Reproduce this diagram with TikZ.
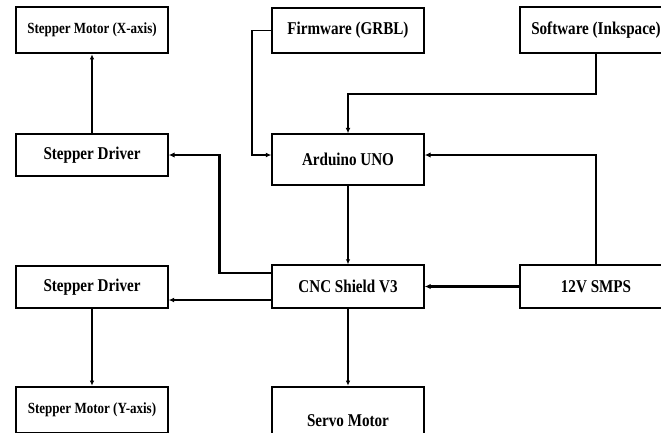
\documentclass[tikz,border=0pt]{standalone}
\usepackage{fontspec}
\setmainfont{Liberation Serif}[FakeStretch=0.84]
\usetikzlibrary{arrows.meta}
\begin{document}
\begin{tikzpicture}[x=1pt,y=-1pt,
  blk/.style={draw=black,rectangle,minimum width=152pt,inner sep=0pt,
    font=\fontsize{18}{20}\selectfont\bfseries,line width=1.4pt},
  thickblk/.style={blk,line width=2.6pt},
  smallfont/.style={font=\fontsize{15.5}{17}\selectfont\bfseries},
  conn/.style={line width=1.1pt,-{Latex[length=5pt,width=4.5pt]}},
  medconn/.style={line width=1.9pt,-{Latex[length=5.5pt,width=5pt]}},
  heavyconn/.style={line width=2.7pt,-{Latex[length=6pt,width=5.5pt]}}]
\useasboundingbox (0,0) rectangle (661,432);
\fill[white] (0,0) rectangle (661,432);
% row 1
\node[thickblk,smallfont,minimum height=46pt] (smx) at (92,30) {Stepper Motor (X-axis)};
\node[thickblk,minimum height=45pt] (fw) at (348,30.5) {Firmware (GRBL)};
\node[thickblk,minimum height=46pt] (sw) at (596,30) {Software (Inkspace)};
% row 2
\node[blk,minimum height=42pt] (sd1) at (92,155) {Stepper Driver};
\node[blk,minimum height=51pt] (ard) at (348,159.5) {Arduino UNO};
% row 3
\node[blk,minimum height=42pt] (sd2) at (92,287) {Stepper Driver};
\node[blk,minimum height=43pt] (cnc) at (348,286.5) {CNC Shield V3};
\node[blk,minimum height=43pt] (smps) at (596,286.5) {12V SMPS};
% row 4
\node[thickblk,smallfont,minimum height=46pt] (smy) at (92,410) {Stepper Motor (Y-axis)};
\node[thickblk,minimum height=68pt] (servo) at (348,421) {Servo Motor};
% connectors
\draw[conn] (sd1.north) -- (smx.south);
\draw[medconn] (fw.west) -- ++(-19,0) |- ([yshift=4.5pt]ard.west);
\draw[medconn] (sw.south) -- ++(0,40) -| (ard.north);
\draw[heavyconn] (smps.north) |- ([yshift=4.5pt]ard.east);
\draw[conn] (ard.south) -- (cnc.north);
\draw[heavyconn] (smps.west) -- (cnc.east);
\draw[heavyconn] ([yshift=13.5pt]cnc.west) -- ++(-52,0) |- (sd1.east);
\draw[medconn] ([yshift=-13.5pt]cnc.west) -- ([yshift=-13.5pt]cnc.west -| sd2.east);
\draw[conn] (sd2.south) -- (smy.north);
\draw[conn] (cnc.south) -- (servo.north);
\end{tikzpicture}
\end{document}
